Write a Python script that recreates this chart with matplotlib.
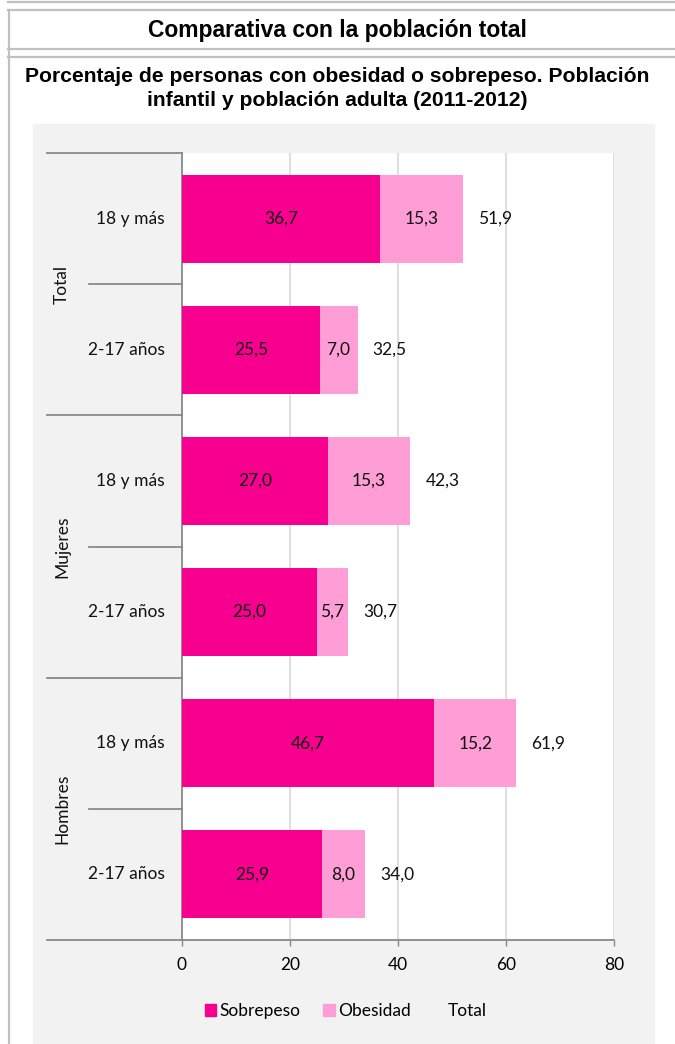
import matplotlib.pyplot as plt
from matplotlib.patches import Rectangle, Patch
from matplotlib.lines import Line2D

# data
grupos = ['Total', 'Mujeres', 'Hombres']
edades = ['18 y más', '2-17 años', '18 y más', '2-17 años', '18 y más', '2-17 años']
sobrepeso = [36.7, 25.5, 27.0, 25.0, 46.7, 25.9]
obesidad = [15.3, 7.0, 15.3, 5.7, 15.2, 8.0]
total = [51.9, 32.5, 42.3, 30.7, 61.9, 34.0]

c_sobre = '#F7008F'
c_obes = '#FF9ED6'

W, H = 675, 1044
fig = plt.figure(figsize=(W / 100, H / 100), dpi=100)

def fx(px):
    return px / W

def fy(py):
    return 1 - py / H

# frame lines and background panel
for yy in [2, 10, 49, 57]:
    fig.add_artist(Line2D([fx(8), 1], [fy(yy), fy(yy)], color='#c0c0c0', lw=1.6))
fig.add_artist(Line2D([fx(9), fx(9)], [fy(10), 0], color='#c0c0c0', lw=1.6))
fig.add_artist(Rectangle((fx(33), 0), fx(654) - fx(33), fy(124), color='#F2F2F2', zorder=0))

fig.text(0.5, fy(30), 'Comparativa con la población total', ha='center', va='center',
         family='Liberation Sans', fontweight='bold', fontsize=16.5)
fig.text(0.5, fy(77), 'Porcentaje de personas con obesidad o sobrepeso. Población',
         ha='center', va='center', family='Liberation Sans', fontweight='bold', fontsize=15.2)
fig.text(0.5, fy(101), 'infantil y población adulta (2011-2012)',
         ha='center', va='center', family='Liberation Sans', fontweight='bold', fontsize=15.2)

ax = fig.add_axes([fx(182), fy(940), fx(614) - fx(182), fy(153) - fy(940)])
ax.set_facecolor('white')
y = list(range(len(edades)))
b1 = ax.barh(y, sobrepeso, height=0.67, color=c_sobre, label='Sobrepeso', zorder=3)
b2 = ax.barh(y, obesidad, left=sobrepeso, height=0.67, color=c_obes, label='Obesidad', zorder=3)

lab_font = dict(family='Lato', fontsize=12.5, color='#111111')
ax.bar_label(b1, labels=[f'{v:.1f}'.replace('.', ',') for v in sobrepeso], label_type='center', **lab_font)
ax.bar_label(b2, labels=[f'{v:.1f}'.replace('.', ',') for v in obesidad], label_type='center', **lab_font)
ax.bar_label(b2, labels=[f'{v:.1f}'.replace('.', ',') for v in total], label_type='edge', padding=11, **lab_font)

ax.set_xlim(0, 80)
ax.set_ylim(5.5, -0.5)
ax.set_xticks([0, 20, 40, 60, 80])
ax.xaxis.grid(True, color='#d9d9d9', lw=1.2, zorder=0)
ax.set_yticks([])
ax.tick_params(axis='x', length=4, width=1, color='#898989', pad=8, labelsize=12.5)
for t in ax.get_xticklabels():
    t.set_family('Lato')
for s in ['top', 'right']:
    ax.spines[s].set_visible(False)
for s in ['left', 'bottom']:
    ax.spines[s].set_color('#898989')
    ax.spines[s].set_linewidth(1.3)

# category separators to the left of the plot
tr = ax.get_yaxis_transform()
for yy in [-0.5, 1.5, 3.5, 5.5]:
    ax.plot([-0.3125, 0], [yy, yy], transform=tr, color='#898989', lw=1.3, clip_on=False)
for yy in [0.5, 2.5, 4.5]:
    ax.plot([-0.215, 0], [yy, yy], transform=tr, color='#898989', lw=1.3, clip_on=False)

for i, e in enumerate(edades):
    ax.text(-0.04, i, e, transform=tr, ha='right', va='center', **lab_font)
for g, yy in zip(grupos, [0.5, 2.5, 4.5]):
    ax.text(-0.278, yy, g, transform=tr, ha='center', va='center', rotation=90, **lab_font)

handles = [Patch(color=c_sobre), Patch(color=c_obes), Patch(color='none')]
leg = fig.legend(handles, ['Sobrepeso', 'Obesidad', 'Total'], loc='center', bbox_to_anchor=(fx(346), fy(1011)),
                 ncol=3, frameon=False, prop={'family': 'Lato', 'size': 12.5},
                 handlelength=0.65, handleheight=0.65, handletextpad=0.2, columnspacing=1.3)

fig.savefig('out.png', dpi=100)
